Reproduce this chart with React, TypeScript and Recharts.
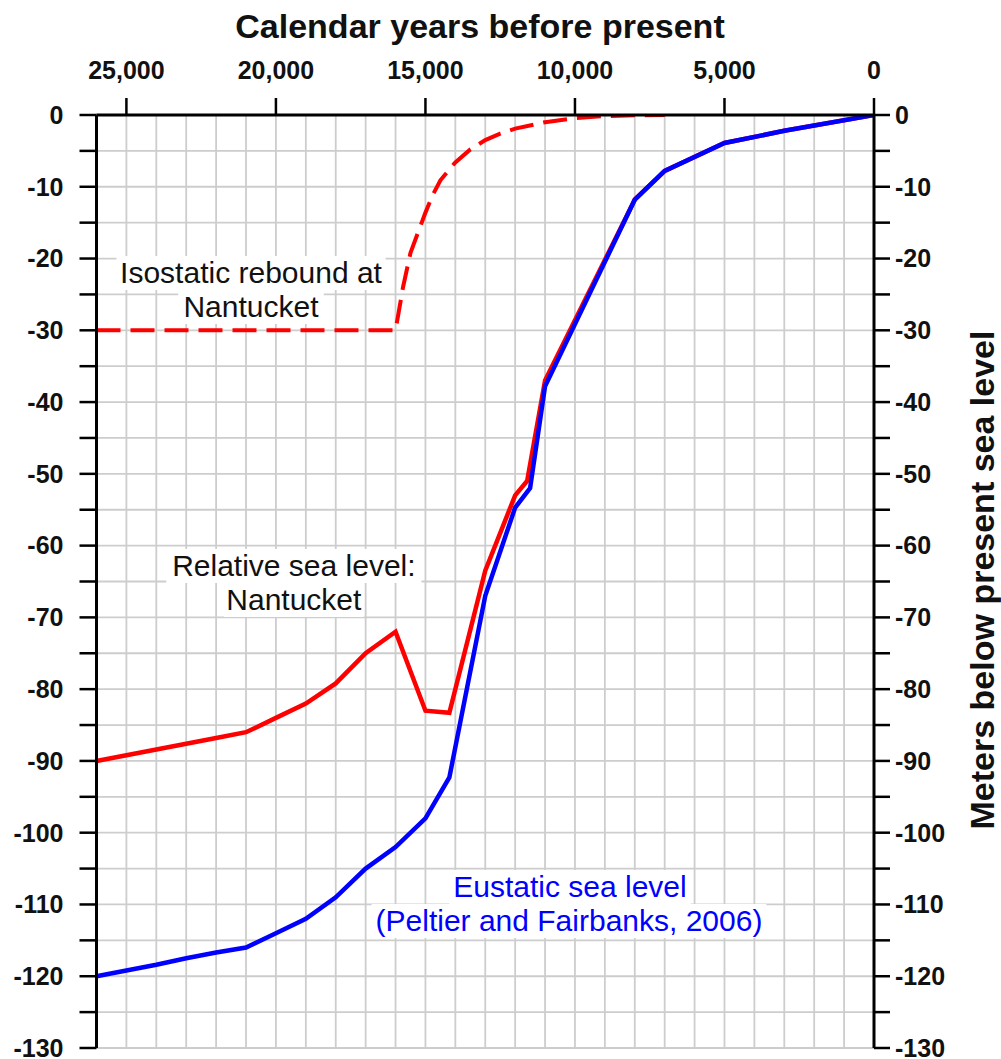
import React from 'react';
import {
  LineChart,
  Line,
  XAxis,
  YAxis,
  CartesianGrid,
  ReferenceArea,
  Customized,
} from 'recharts';

// ---------- data ----------
const eustaticYears = [26000, 25000, 24000, 23000, 22000, 21000, 20000, 19000, 18000, 17000, 16000, 15000, 14200, 13000, 12000, 11500, 11000, 8000, 7000, 5000, 3000, 0];
const eustaticLevels = [-120, -119.2, -118.4, -117.5, -116.7, -116, -114, -112, -109, -105, -102, -98, -92.3, -67, -54.7, -52, -37.8, -11.8, -7.8, -3.9, -2.2, 0];

const relativeYears = [26000, 25000, 24000, 23000, 22000, 21000, 20000, 19000, 18000, 17000, 16000, 15000, 14200, 13000, 12000, 11600, 11000, 8000, 7000, 5000, 3000, 0];
const relativeLevels = [-90, -89.2, -88.4, -87.6, -86.8, -86, -84, -82, -79.2, -75, -72, -83, -83.3, -63.5, -53, -51, -37, -11.8, -7.8, -3.9, -2.2, 0];

const isostaticYears = [26000, 16000, 15750, 15500, 15250, 15000, 14750, 14500, 14000, 13500, 13000, 12500, 12000, 11000, 10000, 9000, 8000, 7000];
const isostaticLevels = [-30, -30, -24, -19.2, -16.4, -13.6, -11.1, -9.1, -6.6, -4.8, -3.5, -2.6, -1.9, -1.0, -0.45, -0.15, -0.03, 0];

const xMajorTicks = [0, 5000, 10000, 15000, 20000, 25000];
const xGridValues = [0, 1000, 2000, 3000, 4000, 5000, 6000, 7000, 8000, 9000, 10000, 11000, 12000, 13000, 14000, 15000, 16000, 17000, 18000, 19000, 20000, 21000, 22000, 23000, 24000, 25000, 26000];
const yTicks = [0, -5, -10, -15, -20, -25, -30, -35, -40, -45, -50, -55, -60, -65, -70, -75, -80, -85, -90, -95, -100, -105, -110, -115, -120, -125, -130];

const xTitle = 'Calendar years before present';
const yTitle = 'Meters below present sea level';

// annotation boxes: text, colour, year range, level range
const annotations = [
  { text: 'Isostatic rebound at', color: '#111', t1: 25333, t2: 16333, v1: -19.65, v2: -24.38 },
  { text: 'Nantucket', color: '#111', t1: 23267, t2: 18400, v1: -24.38, v2: -29.12 },
  { text: 'Relative sea level:', color: '#111', t1: 23667, t2: 15133, v1: -60.47, v2: -65.21 },
  { text: 'Nantucket', color: '#111', t1: 21733, t2: 17067, v1: -65.21, v2: -69.94 },
  { text: 'Eustatic sea level', color: '#0000ff', t1: 14200, t2: 6133, v1: -105.2, v2: -109.93 },
  { text: '(Peltier and Fairbanks, 2006)', color: '#0000ff', t1: 16800, t2: 3600, v1: -109.93, v2: -114.67 },
];

const toPoints = (xs: number[], ys: number[]) => xs.map((t, i) => ({ t, v: ys[i] }));
const eustaticData = toPoints(eustaticYears, eustaticLevels);
const relativeData = toPoints(relativeYears, relativeLevels);
const isostaticData = toPoints(isostaticYears, isostaticLevels);

const FONT = '"Liberation Sans", Arial, Helvetica, sans-serif';

const fmtX = (n: number) => n.toLocaleString('en-US');
const fmtY = (n: number) => (n % 10 === 0 ? String(n) : '');

const makeLabel = (text: string, color: string) => (props: any) => {
  const vb = props.viewBox || {};
  const cx = vb.x + vb.width / 2;
  const base = vb.y + vb.height / 2 + 10.5;
  return (
    <text x={cx} y={base} textAnchor="middle" fontFamily={FONT} fontSize={30} fill={color}>
      {text}
    </text>
  );
};

const Titles = () => (
  <g>
    <text x={480} y={38} textAnchor="middle" fontFamily={FONT} fontSize={34} fontWeight="bold" fill="#111">
      {xTitle}
    </text>
    <text
      transform="translate(994,580) rotate(-90)"
      textAnchor="middle"
      fontFamily={FONT}
      fontSize={34}
      fontWeight="bold"
      fill="#111"
    >
      {yTitle}
    </text>
  </g>
);

const tickStyle = { fontFamily: FONT, fontSize: 25, fontWeight: 'bold', fill: '#111' };
const axisLineStyle = { stroke: '#000', strokeWidth: 3 };
const tickLineStyle = { stroke: '#000', strokeWidth: 2.5 };

export default function App() {
  return (
    <div style={{ position: 'fixed', left: 0, top: 0, width: 1001, height: 1059, background: '#fff' }}>
      <LineChart width={1001} height={1059} margin={{ top: 75, right: 67, bottom: 11, left: 36.5 }}>
        <CartesianGrid
          xAxisId="top"
          yAxisId="left"
          stroke="#cdcdcd"
          strokeWidth={1.8}
          verticalValues={xGridValues}
          horizontalValues={yTicks}
        />
        <XAxis
          xAxisId="top"
          orientation="top"
          type="number"
          dataKey="t"
          domain={[0, 26000]}
          reversed
          allowDataOverflow
          ticks={xMajorTicks}
          tickFormatter={fmtX}
          height={40}
          tickSize={17}
          tickMargin={19}
          tick={tickStyle}
          axisLine={axisLineStyle}
          tickLine={tickLineStyle}
          interval={0}
        />
        <XAxis
          xAxisId="bottom"
          orientation="bottom"
          type="number"
          dataKey="t"
          domain={[0, 26000]}
          reversed
          allowDataOverflow
          ticks={xGridValues}
          height={0}
          tickSize={3}
          tick={false}
          axisLine={axisLineStyle}
          tickLine={{ stroke: '#000', strokeWidth: 1.5 }}
          interval={0}
        />
        <YAxis
          yAxisId="left"
          orientation="left"
          type="number"
          domain={[-130, 0]}
          allowDataOverflow
          ticks={yTicks}
          tickFormatter={fmtY}
          width={60}
          tickSize={17}
          tickMargin={16}
          tick={tickStyle}
          axisLine={axisLineStyle}
          tickLine={tickLineStyle}
          interval={0}
        />
        <YAxis
          yAxisId="right"
          orientation="right"
          type="number"
          domain={[-130, 0]}
          allowDataOverflow
          ticks={yTicks}
          tickFormatter={fmtY}
          width={60}
          tickSize={16}
          tickMargin={5}
          tick={tickStyle}
          axisLine={axisLineStyle}
          tickLine={tickLineStyle}
          interval={0}
        />
        {annotations.map((a, i) => (
          <ReferenceArea
            key={i}
            xAxisId="top"
            yAxisId="left"
            x1={a.t1}
            x2={a.t2}
            y1={a.v1}
            y2={a.v2}
            fill="#ffffff"
            fillOpacity={1}
            stroke="none"
            ifOverflow="visible"
            label={makeLabel(a.text, a.color)}
          />
        ))}
        <Line
          xAxisId="top"
          yAxisId="left"
          data={isostaticData}
          dataKey="v"
          type="linear"
          stroke="#ff0000"
          strokeWidth={4}
          strokeDasharray="24 10"
          dot={false}
          activeDot={false}
          isAnimationActive={false}
        />
        <Line
          xAxisId="top"
          yAxisId="left"
          data={relativeData}
          dataKey="v"
          type="linear"
          stroke="#ff0000"
          strokeWidth={4.5}
          dot={false}
          activeDot={false}
          isAnimationActive={false}
        />
        <Line
          xAxisId="top"
          yAxisId="left"
          data={eustaticData}
          dataKey="v"
          type="linear"
          stroke="#0000ff"
          strokeWidth={4.5}
          dot={false}
          activeDot={false}
          isAnimationActive={false}
        />
        <Customized component={Titles} />
      </LineChart>
    </div>
  );
}
